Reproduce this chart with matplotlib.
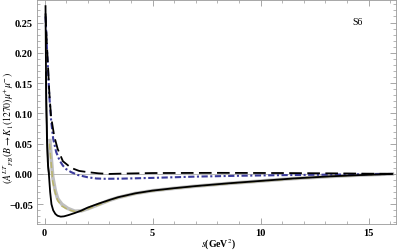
import matplotlib
matplotlib.use('Agg')
import matplotlib.pyplot as plt
from matplotlib.ticker import MultipleLocator

plt.rcParams['font.family'] = ['Liberation Serif', 'DejaVu Serif']
plt.rcParams['mathtext.fontset'] = 'stix'

# black solid (main curve)
s_black = [0.045, 0.06, 0.08, 0.11, 0.15, 0.2, 0.26, 0.32, 0.4, 0.5, 0.6, 0.75,
           0.9, 1.1, 1.4, 1.7, 2.0, 2.5, 3.0, 3.4, 4.2, 5.0, 6.0, 7.0, 8.5, 10.0,
           11.5, 13.2, 14.5, 15.5, 16.1]
y_black = [0.277, 0.20, 0.12, 0.06, 0.02, 0.0, -0.03, -0.05, -0.06, -0.066, -0.069,
           -0.0705, -0.070, -0.068, -0.0645, -0.0605, -0.0555, -0.049, -0.043,
           -0.0385, -0.032, -0.0275, -0.0235, -0.020, -0.0155, -0.0115, -0.0075,
           -0.004, -0.002, -0.0007, 0.0]

# second black solid, starts lower
s_black2 = [0.065, 0.09, 0.12, 0.16, 0.2]
y_black2 = [0.168, 0.10, 0.055, 0.015, 0.0]

# black dashed
s_dash = [0.045, 0.1, 0.15, 0.22, 0.3, 0.45, 0.61, 0.85, 1.23, 1.6, 2.0, 2.5,
          3.0, 3.5, 5.0, 8.0, 11.0, 14.0, 16.1]
y_dash = [0.265, 0.22, 0.185, 0.135, 0.095, 0.062, 0.041, 0.021, 0.010, 0.005,
          0.003, 0.001, 0.0, 0.0005, 0.0015, 0.0018, 0.0015, 0.0008, 0.0]

# blue dash-dot
s_blue = [0.045, 0.1, 0.15, 0.22, 0.3, 0.4, 0.54, 0.7, 0.85, 1.0, 1.23, 1.54,
          2.0, 2.4, 2.8, 3.5, 5.0, 7.0, 9.0, 11.6, 14.0, 16.1]
y_blue = [0.26, 0.215, 0.179, 0.13, 0.09, 0.058, 0.036, 0.022, 0.0137, 0.008,
          0.003, -0.0017, -0.0055, -0.0075, -0.008, -0.0078, -0.0065, -0.0044,
          -0.003, -0.0017, -0.0008, 0.0]

# gray band
s_gray = [0.25, 0.3, 0.38, 0.5, 0.61, 0.8, 1.08, 1.4, 1.7, 2.0, 2.5, 3.0, 3.4,
          4.2, 5.0, 6.0, 7.0, 8.5, 10.0, 11.5, 13.2, 14.5, 15.5, 16.1]
y_gray = [0.055, 0.03, -0.005, -0.028, -0.041, -0.05, -0.057, -0.0615, -0.061,
          -0.0575, -0.0505, -0.0435, -0.039, -0.0322, -0.0277, -0.0237, -0.0202,
          -0.0157, -0.0117, -0.0077, -0.0042, -0.002, -0.0007, 0.0]

# olive dashed
s_olive = [0.23, 0.3, 0.38, 0.5, 0.61, 0.8, 1.08, 1.4, 1.7, 2.0, 2.5, 3.0, 3.4,
           4.2, 5.0, 6.0, 7.0, 8.5, 10.0, 11.5, 13.2, 14.5, 15.5, 16.1]
y_olive = [0.05, 0.02, -0.013, -0.032, -0.044, -0.053, -0.059, -0.062, -0.0612,
           -0.0578, -0.051, -0.044, -0.0392, -0.0325, -0.028, -0.024, -0.0205,
           -0.016, -0.012, -0.008, -0.0043, -0.0021, -0.0008, 0.0]

xticks = [0, 5, 10, 15]
yticks = [-0.05, 0.00, 0.05, 0.10, 0.15, 0.20, 0.25]

fig = plt.figure(figsize=(4, 2.53), dpi=100)
ax = fig.add_axes([0.093, 0.111, 0.896, 0.887])

ax.axhline(0, color='#aaaaaa', lw=0.6, zorder=1)

ax.plot(s_gray, y_gray, color='#b0b0b0', lw=2.6, alpha=0.8, zorder=2)
ax.plot(s_olive, y_olive, color='#b9b46a', lw=1.1, ls=(0, (4, 2)), zorder=3)
ax.plot(s_blue, y_blue, color='#3c3c9c', lw=1.5, ls=(0, (3, 1.2, 1, 1.2)), zorder=4)
ax.plot(s_dash, y_dash, color='black', lw=1.3, ls=(0, (7, 3)), zorder=5)
ax.plot(s_black, y_black, color='black', lw=1.3, zorder=6)
ax.plot(s_black2, y_black2, color='black', lw=1.1, zorder=6)

ax.set_xlim(-0.34, 16.25)
ax.set_ylim(-0.0825, 0.288)

ax.set_xticks(xticks)
ax.set_yticks(yticks)
ax.set_yticklabels([f'{v:.2f}'.replace('-', '\u2212') for v in yticks])
ax.xaxis.set_minor_locator(MultipleLocator(1))
ax.yaxis.set_minor_locator(MultipleLocator(0.01))
ax.tick_params(which='both', direction='in', top=True, right=True,
               color='#999999', labelsize=7.5, pad=3)
ax.tick_params(which='major', length=4, width=0.6)
ax.tick_params(which='minor', length=2, width=0.5)
for lab in ax.get_xticklabels() + ax.get_yticklabels():
    lab.set_fontweight('bold')
for sp in ax.spines.values():
    sp.set_color('#999999')
    sp.set_linewidth(0.6)

ax.set_xlabel(r'$s$(GeV$^2$)', fontsize=7, fontweight='bold')
ax.xaxis.set_label_coords(0.505, -0.055)
ax.set_ylabel(r'$(A^{LT}{}_{FB}(B\rightarrow K_1(1270)\mu^{+}\mu^{-})$',
              fontsize=7)
ax.yaxis.set_label_coords(-0.058, 0.43)
ax.text(14.5, 0.252, 'S6', fontsize=7, ha='center', va='center')

fig.savefig('out.png', dpi=100)
